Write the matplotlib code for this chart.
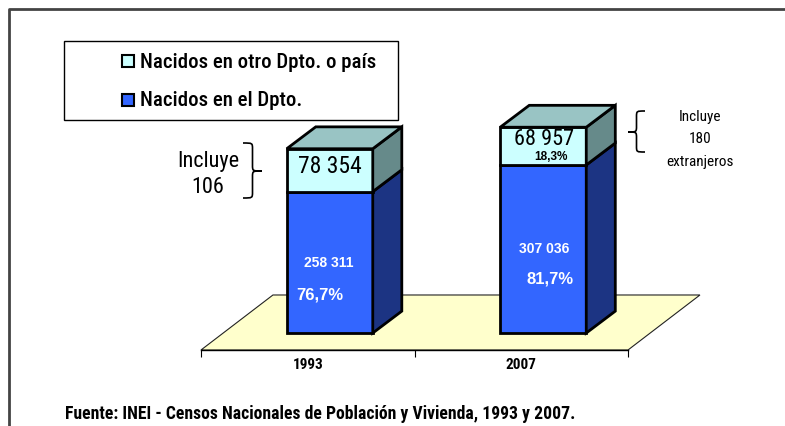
import numpy as np
import matplotlib.pyplot as plt
from matplotlib.patches import Polygon, Rectangle, PathPatch
from matplotlib.path import Path

NARROW = ['Roboto Condensed', 'Archivo Narrow', 'Liberation Sans', 'DejaVu Sans']
ARIAL = ['Liberation Sans', 'DejaVu Sans']

# data
years = ['1993', '2007']
nacidos_dpto = [258311, 307036]
nacidos_otro = [78354, 68957]
pct_dpto = ['76,7%', '81,7%']
pct_otro = ['23,3%', '18,3%']
series_names = ['Nacidos en otro Dpto. o país', 'Nacidos en el Dpto.']

# colours: front, side, top
c_dpto = ('#3366FF', '#1C3483', '#2A50C8')
c_otro = ('#CCFFFF', '#668A8A', '#99C4C4')
c_floor = '#FFFFCC'

W, H = 785, 427
fig = plt.figure(figsize=(W / 100, H / 100), dpi=100)

# main axes: x in category units, y in persons
ax = fig.add_axes([201 / W, (H - 351) / H, 427 / W, 331 / H])
y_floor = -31000
ax.set_xlim(-0.5, 1.5)
ax.set_ylim(y_floor, 573700)
for s in ['top', 'right', 'left']:
    ax.spines[s].set_visible(False)
ax.spines['bottom'].set_linewidth(1.0)
ax.set_yticks([])
ax.set_xticks([-0.5, 0.5, 1.5])
ax.set_xticklabels([])
ax.tick_params(axis='x', length=5, width=0.8, direction='out')
ax.patch.set_alpha(0)

# floor
fdx, fdy = 0.337, 100500
floor = Polygon([(-0.5, y_floor), (1.5, y_floor), (1.5 + fdx, y_floor + fdy), (-0.5 + fdx, y_floor + fdy)],
                closed=True, facecolor=c_floor, edgecolor='#222222', lw=0.8, clip_on=False, zorder=1)
ax.add_patch(floor)

# bars
shift, bw = 0.103, 0.403
ddx, ddy = 0.136, 40000


def prism(x0, y0, y1, cols, top=True):
    x1 = x0 + bw
    kw = dict(closed=True, edgecolor='black', lw=2.0, clip_on=False, zorder=3, joinstyle='miter')
    ax.add_patch(Polygon([(x0, y0), (x1, y0), (x1, y1), (x0, y1)], facecolor=cols[0], **kw))
    ax.add_patch(Polygon([(x1, y0), (x1 + ddx, y0 + ddy), (x1 + ddx, y1 + ddy), (x1, y1)], facecolor=cols[1], **kw))
    if top:
        ax.add_patch(Polygon([(x0, y1), (x1, y1), (x1 + ddx, y1 + ddy), (x0 + ddx, y1 + ddy)], facecolor=cols[2], **kw))


for i in range(len(years)):
    x0 = i + shift - bw / 2
    prism(x0, 0, nacidos_dpto[i], c_dpto, top=False)
    prism(x0, nacidos_dpto[i], nacidos_dpto[i] + nacidos_otro[i], c_otro)
    ax.text(i, y_floor - 25000, years[i], ha='center', va='center', fontsize=11,
            fontweight='bold', family=NARROW)

def fmt(v):
    return f'{v:,}'.replace(',', ' ')

# value labels
lab_dpto = [(0.1, 0.503, 0.056, 0.276), (0.108, 0.506, 0.136, 0.327)]
lab_otro = [(0.103, 0.61, 0.112, 0.14), (0.108, 0.69, 0.14, 0.235)]
for i in range(len(years)):
    a, b, c, d = lab_dpto[i]
    ax.text(i + a, nacidos_dpto[i] * b, fmt(nacidos_dpto[i]), ha='center', va='center',
            color='white', fontsize=10, fontweight='bold', family=ARIAL, zorder=5)
    ax.text(i + c, nacidos_dpto[i] * d, pct_dpto[i], ha='center', va='center',
            color='white', fontsize=12, fontweight='bold', family=ARIAL, zorder=5)
    a, b, c, d = lab_otro[i]
    ax.text(i + a, nacidos_dpto[i] + nacidos_otro[i] * b, fmt(nacidos_otro[i]), ha='center', va='center',
            color='black', fontsize=17 if i == 0 else 16, family=NARROW, zorder=5)
    ax.text(i + c, nacidos_dpto[i] + nacidos_otro[i] * d, pct_otro[i], ha='center', va='center',
            color='black', fontsize=8.5, fontweight='bold', family=ARIAL, zorder=2.5 if i == 0 else 5)

# overlay in pixel coordinates
ov = fig.add_axes([0, 0, 1, 1])
ov.set_xlim(0, W)
ov.set_ylim(H, 0)
ov.axis('off')
ov.patch.set_alpha(0)

# outer frame
ov.plot([8.5, 8.5, W + 5], [H + 5, 9.5, 9.5], color='#444444', lw=2.0, clip_on=False)

# legend box
ov.add_patch(Rectangle((64, 42), 334, 79, facecolor='white', edgecolor='black', lw=1.0))
for k, (name, col) in enumerate(zip(series_names, [c_otro[0], c_dpto[0]])):
    yy = 62 + k * 39
    ov.add_patch(Rectangle((122, yy - 6), 12, 12, facecolor=col, edgecolor='black', lw=1.5))
    ov.text(140, yy, name, ha='left', va='center', fontsize=15, fontweight='medium', family=NARROW)


def brace(x0, x1, y0, y1, ym, lw=1.2):
    xm = (x0 + x1) / 2
    r = 6
    verts = [(x0, y0), (xm, y0), (xm, y0), (xm, y0 + r), (xm, ym - r),
             (xm, ym), (xm, ym), (x1, ym),
             (xm, ym), (xm, ym), (xm, ym + r), (xm, y1 - r),
             (xm, y1), (xm, y1), (x0, y1)]
    codes = [Path.MOVETO, Path.CURVE4, Path.CURVE4, Path.CURVE4, Path.LINETO,
             Path.CURVE4, Path.CURVE4, Path.CURVE4,
             Path.CURVE4, Path.CURVE4, Path.CURVE4, Path.LINETO,
             Path.CURVE4, Path.CURVE4, Path.CURVE4]
    ov.add_patch(PathPatch(Path(verts, codes), facecolor='none', edgecolor='black', lw=lw))


brace(243, 262, 144, 199, 172)
brace(645, 628, 112, 153, 133)

ov.text(208, 162, 'Incluye', ha='center', va='center', fontsize=16, family=NARROW)
ov.text(208, 188, '106', ha='center', va='center', fontsize=16, family=NARROW)
ov.text(700, 117, 'Incluye', ha='center', va='center', fontsize=11, family=NARROW)
ov.text(700, 139, '180', ha='center', va='center', fontsize=11, family=NARROW)
ov.text(700, 162, 'extranjeros', ha='center', va='center', fontsize=11, family=NARROW)

ov.text(65, 414, 'Fuente: INEI - Censos Nacionales de Población y Vivienda, 1993 y 2007.',
        ha='left', va='center', fontsize=12.7, fontweight='bold', family=NARROW)

fig.savefig('out.png', dpi=100)
